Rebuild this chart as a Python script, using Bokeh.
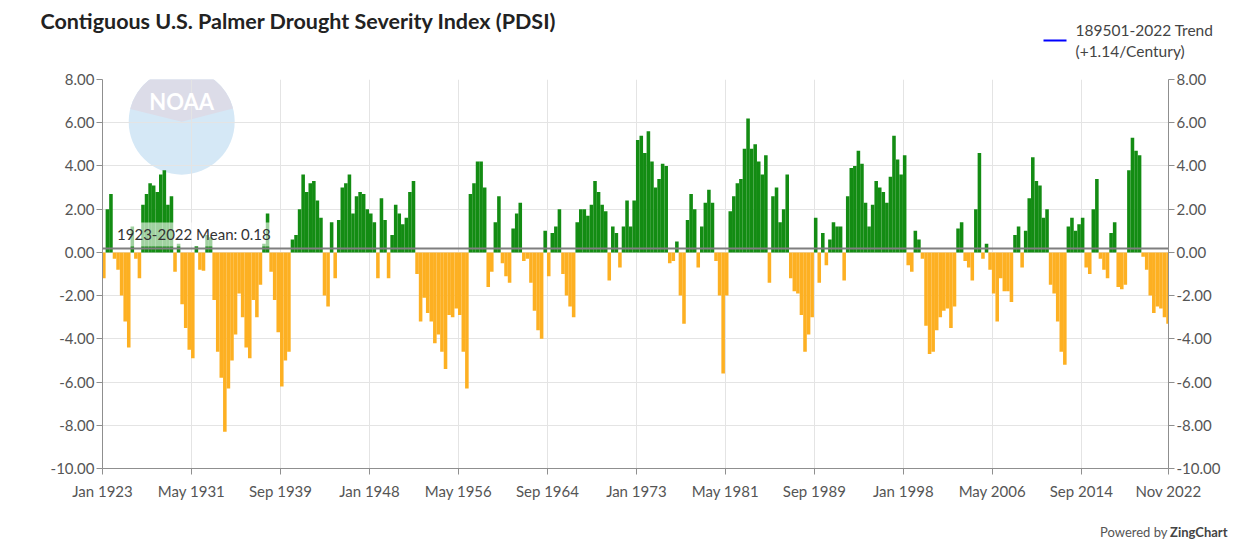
from bokeh.plotting import figure
from bokeh.layouts import column
from bokeh.models import (FixedTicker, NumeralTickFormatter, LinearAxis, Span, Label,
                          Range1d, ColumnDataSource)
from bokeh.embed import file_html
from bokeh.resources import INLINE

# ---------------- text ----------------
title_text = "Contiguous U.S. Palmer Drought Severity Index (PDSI)"
trend_label_lines = ["189501-2022 Trend", "(+1.14/Century)"]
trend_color = "#0000ff"
mean_value = 0.18
mean_text = "1923-2022 Mean: 0.18"

# ---------------- axes ----------------
x_tick_months = [0, 100, 200, 300, 400, 500, 600, 700, 800, 900, 1000, 1100, 1198]
x_tick_labels = ["Jan 1923", "May 1931", "Sep 1939", "Jan 1948", "May 1956", "Sep 1964",
                 "Jan 1973", "May 1981", "Sep 1989", "Jan 1998", "May 2006", "Sep 2014",
                 "Nov 2022"]
y_ticks = [-10, -8, -6, -4, -2, 0, 2, 4, 6, 8]

# ---------------- data: PDSI, one value per 4 months ----------------
months_per_bar = 4
pdsi_1923_1931 = [-1.2, 2.0, 2.7, -0.3, -0.8, -2.0, -3.2, -4.4, 1.2, -0.3, -1.2, 2.2, 2.7,
                  3.2, 3.1, 2.8, 3.6, 3.8, 2.2, 2.6, -0.9, 0.4, -2.4, -3.5, -4.5]
pdsi_1931_1939 = [-4.9, 0.3, -0.8, -0.85, 0.8, 0.7, -2.2, -4.6, -5.8, -8.3, -6.3, -5.0, -3.8,
                  -1.9, -3.0, -4.4, -4.9, -2.2, -3.0, -1.5, 0.4, 1.8, -0.9, -2.2, -3.7]
pdsi_1939_1947 = [-6.2, -5.0, -4.6, 0.6, 0.8, 2.0, 3.6, 2.8, 3.2, 3.3, 2.4, 1.6, -2.0,
                  -2.5, 1.4, -1.2, 1.5, 3.0, 3.2, 3.6, 1.8, 2.6, 2.8, 2.7, 2.0]
pdsi_1948_1956 = [1.8, 1.4, -1.2, 2.5, 1.5, -1.2, 0.8, 2.2, 1.8, 1.3, 1.6, 2.8, 3.3,
                  -1.0, -3.2, -2.1, -2.8, -3.2, -4.2, -3.8, -4.6, -5.4, -2.9, -3.0, -2.6]
pdsi_1956_1964 = [-2.9, -4.6, -6.3, 2.7, 3.2, 4.2, 4.2, 3.0, -1.6, -0.9, 1.4, 2.6, -0.5,
                  -1.1, -1.4, 1.1, 1.8, 2.3, -0.4, -0.3, -1.4, -2.7, -3.6, -4.0, 1.0]
pdsi_1964_1972 = [-1.1, 0.9, 1.2, 2.0, -1.0, -2.0, -2.5, -3.0, 1.4, 2.0, 2.0, 1.7, 2.2,
                  3.3, 2.8, 2.2, 1.9, -1.3, 1.2, 0.9, -0.7, 1.2, 2.4, 1.2, 2.4]
pdsi_1973_1981 = [5.2, 5.4, 4.6, 5.6, 4.2, 3.0, 3.4, 4.1, 4.0, -0.5, -0.4, 0.5, -2.0,
                  -3.3, 1.5, 2.7, 2.0, -0.7, 1.2, 2.3, 2.9, 2.3, -0.4, -2.0, -5.6]
pdsi_1981_1989 = [-2.0, 1.9, 2.6, 3.2, 3.4, 4.8, 6.2, 4.8, 5.0, 4.2, 3.6, 4.5, -1.4,
                  2.6, 3.0, 1.4, 2.0, 3.6, -1.2, -1.8, -1.9, -2.9, -4.6, -3.8, -3.0]
pdsi_1989_1997 = [1.6, -1.4, 0.9, -0.6, 0.6, 1.4, 1.2, 1.2, -1.3, 2.6, 3.9, 4.0, 4.7,
                  4.1, 2.3, 1.2, 2.2, 3.3, 3.0, 2.8, 2.3, 3.5, 5.4, 4.3, 3.6]
pdsi_1998_2006 = [4.5, -0.6, -0.9, 1.0, 0.6, -0.3, -3.4, -4.7, -4.6, -3.6, -3.0, -2.7, -2.6,
                  -3.5, -2.5, 1.1, 1.4, -0.4, -0.7, -1.3, 2.0, 4.6, -0.3, 0.4, -0.8]
pdsi_2006_2014 = [-1.9, -3.2, -1.2, -1.8, -1.8, -2.3, 0.8, 1.2, -0.7, 1.0, 2.5, 4.4, 3.3,
                  3.1, 1.6, 2.0, -1.5, -1.9, -3.2, -4.6, -5.2, 1.2, 1.6, 1.0, 1.3]
pdsi_2014_2022 = [1.6, -0.7, -1.0, 2.0, 3.4, -0.3, -0.8, -1.2, 0.9, 1.4, -1.6, -1.7, -1.5,
                  3.8, 5.3, 4.7, 4.5, -0.2, -0.8, -2.0, -2.8, -2.5, -2.6, -3.0, -3.3]

pdsi = (pdsi_1923_1931 + pdsi_1931_1939 + pdsi_1939_1947 + pdsi_1948_1956 +
        pdsi_1956_1964 + pdsi_1964_1972 + pdsi_1973_1981 + pdsi_1981_1989 +
        pdsi_1989_1997 + pdsi_1998_2006 + pdsi_2006_2014 + pdsi_2014_2022)

WET = "#138c13"
DRY = "#fdb022"
FONT = "Lato"
W = 1236

start_month = [i * months_per_bar for i in range(len(pdsi))]
centers = [m + (months_per_bar - 1) / 2 for m in start_month]
colors = [WET if v >= 0 else DRY for v in pdsi]
src = ColumnDataSource(dict(x=centers, top=pdsi, color=colors))


def blank(height):
    f = figure(width=W, height=height, output_backend="svg", toolbar_location=None,
               x_range=Range1d(0, W), y_range=Range1d(height, 0),
               x_axis_type=None, y_axis_type=None,
               min_border_left=0, min_border_right=0, min_border_top=0, min_border_bottom=0)
    f.outline_line_color = None
    f.background_fill_color = "white"
    f.border_fill_color = "white"
    f.grid.visible = False
    f.frame_align = False
    return f


# ---------------- header: title and trend legend ----------------
header = blank(64)
header.add_layout(Label(x=40, y=20, text=title_text, text_font=FONT, text_font_style="bold",
                        text_font_size="21.5px", text_color="#222222", text_baseline="middle"))
header.line(x=[1043, 1066], y=[40, 40], line_color=trend_color, line_width=2)
for i, line in enumerate(trend_label_lines):
    header.add_layout(Label(x=1075, y=29 + 21 * i, text=line, text_font=FONT,
                            text_font_size="15.5px", text_color="#444444",
                            text_baseline="middle"))

# ---------------- main chart ----------------
p = figure(width=W, height=452, output_backend="svg", toolbar_location=None,
           x_range=Range1d(0, x_tick_months[-1]), y_range=Range1d(y_ticks[0], y_ticks[-1]),
           min_border_left=102, min_border_right=W - 1168, min_border_top=15,
           min_border_bottom=48)
p.frame_align = False
p.outline_line_color = None
p.background_fill_color = "white"
p.border_fill_color = "white"

# faint NOAA logo (decoration)
logo_x, logo_y = 89, 6.05
p.circle(x=[logo_x], y=[logo_y], radius=53, radius_units="screen",
         fill_color="#d5e8f6", line_color=None, level="image")
p.wedge(x=[logo_x], y=[logo_y], radius=53, radius_units="screen",
        start_angle=0.25, end_angle=2.9, fill_color="#dcdce8", line_color=None, level="image")
p.add_layout(Label(x=logo_x, y=logo_y, y_offset=20, text="NOAA", text_align="center",
                   text_baseline="middle", text_color="white", text_font=FONT,
                   text_font_style="bold", text_font_size="22px"))

# bars
p.vbar(x="x", top="top", bottom=0, width=months_per_bar, fill_color="color",
       line_color=None, source=src)

# axes
p.xaxis.ticker = FixedTicker(ticks=x_tick_months)
p.xaxis.major_label_overrides = {t: l for t, l in zip(x_tick_months, x_tick_labels)}
p.yaxis.ticker = FixedTicker(ticks=y_ticks)
p.yaxis.formatter = NumeralTickFormatter(format="0.00")
right = LinearAxis(ticker=FixedTicker(ticks=y_ticks), formatter=NumeralTickFormatter(format="0.00"))
p.add_layout(right, "right")

for ax in p.axis:
    ax.axis_line_color = "#8f8f8f"
    ax.major_tick_line_color = "#8f8f8f"
    ax.minor_tick_line_color = None
    ax.major_tick_out = 6
    ax.major_tick_in = 0
    ax.major_label_text_font = FONT
    ax.major_label_text_font_size = "15px"
    ax.major_label_text_color = "#555555"
p.xaxis.major_label_standoff = 7
p.yaxis.major_label_standoff = 2
right.major_label_standoff = 2

p.xgrid.ticker = FixedTicker(ticks=x_tick_months)
p.ygrid.ticker = FixedTicker(ticks=y_ticks)
p.xgrid.grid_line_color = "#e4e4e4"
p.ygrid.grid_line_color = "#e4e4e4"

# mean line and its label
p.add_layout(Span(location=mean_value, dimension="width", line_color="#7f7f7f", line_width=2))
p.add_layout(Label(x=13, y=mean_value, y_offset=2, text=mean_text, text_baseline="bottom",
                   text_font=FONT, text_font_size="15px", text_color="#333333",
                   background_fill_color="white", background_fill_alpha=0.6, padding=3))

# ---------------- footer: credit ----------------
footer = blank(26)
footer.add_layout(Label(x=1227, y=15, text="ZingChart", text_font=FONT, text_font_style="bold",
                        text_font_size="13px", text_color="#444444", text_baseline="middle",
                        text_align="right"))
footer.add_layout(Label(x=1167, y=15, text="Powered by", text_font=FONT, text_font_size="13px",
                        text_color="#555555", text_baseline="middle", text_align="right"))

layout = column(header, p, footer, spacing=0)
open("out.html", "w").write(file_html(layout, INLINE))
